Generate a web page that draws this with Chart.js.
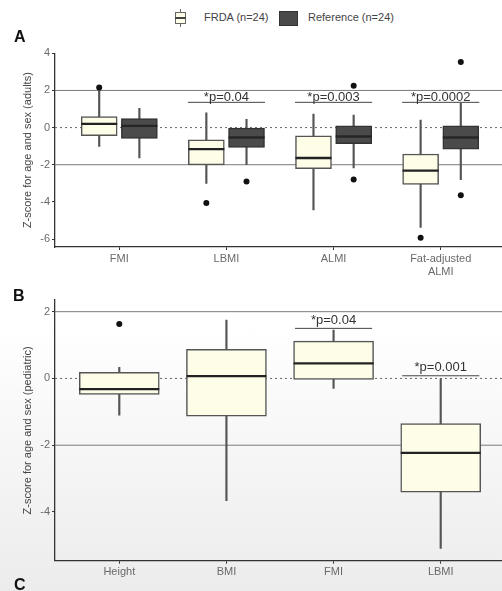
<!DOCTYPE html>
<html>
<head>
<meta charset="utf-8">
<script src="https://cdn.jsdelivr.net/npm/chart.js@4.4.0/dist/chart.umd.min.js"></script>
<style>
  html, body { margin: 0; padding: 0; }
  body {
    width: 502px; height: 591px; overflow: hidden; position: relative;
    background: linear-gradient(to bottom, #ffffff 0%, #ffffff 55%, #ececec 100%);
    font-family: Arial, "Liberation Sans", sans-serif;
  }
  canvas { position: absolute; left: 0; }
  #chartA { top: 40px; }
  #chartB { top: 285px; }
  .tag { position: absolute; font-weight: bold; font-size: 16px; color: #111; z-index: 2; }
  .leg { position: absolute; font-size: 11px; color: #444; top: 11px; }
  .icon { position: absolute; box-sizing: border-box; }
</style>
</head>
<body>
<!-- legend -->
<div class="icon" style="left:180px;top:9px;width:1px;height:18px;background:#666"></div>
<div class="icon" style="left:175px;top:12px;width:11px;height:12px;border:1px solid #666;background:#fdfde8"></div>
<div class="icon" style="left:175px;top:17px;width:11px;height:2px;background:#444"></div>
<span class="leg" style="left:204px">FRDA (n=24)</span>
<div class="icon" style="left:279px;top:11px;width:19px;height:15px;border:1px solid #333;background:#4a4a4a"></div>
<span class="leg" style="left:308px">Reference (n=24)</span>

<div class="tag" style="left:14px;top:28px">A</div>
<div class="tag" style="left:13px;top:287px">B</div>
<div class="tag" style="left:14px;top:576px">C</div>

<canvas id="chartA" width="506" height="242"></canvas>
<canvas id="chartB" width="506" height="306"></canvas>

<script>
// Panel A: adults, FRDA vs reference
const adultCats = ['FMI', 'LBMI', 'ALMI', ['Fat-adjusted', 'ALMI']];
// each row: [lower whisker, q1, median, q3, upper whisker]
const frdaAdult = [
  [-1.02, -0.43, 0.2, 0.59, 2.1],
  [-3.01, -2.01, -1.16, -0.66, 0.8],
  [-4.44, -2.21, -1.64, -0.44, 0.73],
  [-5.38, -3.06, -2.32, -1.42, 0.41]
];
const refAdult = [
  [-1.64, -0.59, 0.09, 0.48, 1.04],
  [-2.0, -1.07, -0.53, 0.0, 0.45],
  [-2.17, -0.87, -0.48, 0.09, 0.68],
  [-2.8, -1.16, -0.53, 0.09, 1.3]
];
const frdaAdultOut = [[2.16], [-4.06], [], [-5.93]];
const refAdultOut = [[], [-2.9], [2.25, -2.8], [3.53, -3.65]];
const adultSigCat = [2, 3, 4];
const adultSigY = [1.36, 1.36, 1.36];
const adultSigText = ['*p=0.04', '*p=0.003', '*p=0.0002'];
const adultTicks = [-6, -4, -2, 0, 2, 4];

// Panel B: pediatric, FRDA only
const pedCats = ['Height', 'BMI', 'FMI', 'LBMI'];
const frdaPed = [
  [-1.1, -0.48, -0.32, 0.18, 0.33],
  [-3.66, -1.13, 0.07, 0.87, 1.75],
  [-0.3, -0.03, 0.45, 1.12, 1.45],
  [-5.09, -3.41, -2.23, -1.35, 0.0]
];
const frdaPedOut = [[1.63], [], [], []];
const pedSigCat = [3, 4];
const pedSigY = [1.5, 0.08];
const pedSigText = ['*p=0.04', '*p=0.001'];
const pedTicks = [-4, -2, 0, 2];

const cutLines = [2, -2];
const X_MIN = 0.4, X_MAX = 4.6;

function boxSets(stats, outs, shift, width, fill, edge, med) {
  const pos = stats.map((s, i) => i + 1 + shift);
  return [
    { type: 'bar', stack: 'box', order: 6, barThickness: 1.5, backgroundColor: '#555',
      data: stats.map((s, i) => ({ x: pos[i], y: [s[0], s[4]] })) },
    { type: 'bar', stack: 'box', order: 5, barThickness: width, backgroundColor: fill,
      borderColor: edge, borderWidth: 1.5, borderSkipped: false,
      data: stats.map((s, i) => ({ x: pos[i], y: [s[1], s[3]] })) },
    { type: 'line', order: 4, showLine: false, pointStyle: 'line', pointRadius: width / 2,
      pointBorderWidth: 2.4, pointBorderColor: med,
      data: stats.map((s, i) => ({ x: pos[i], y: s[2] })) },
    { type: 'line', order: 3, showLine: false, pointRadius: 3, pointBackgroundColor: '#111',
      pointBorderWidth: 0,
      data: outs.flatMap((o, i) => o.map(v => ({ x: pos[i], y: v }))) }
  ];
}

function guideSets() {
  const sets = cutLines.map(v => ({
    type: 'line', order: 10, borderColor: '#7a7a7a', borderWidth: 1, pointRadius: 0,
    data: [{ x: X_MIN, y: v }, { x: X_MAX, y: v }]
  }));
  sets.push({
    type: 'line', order: 10, borderColor: '#666', borderWidth: 1, borderDash: [2, 3], pointRadius: 0,
    data: [{ x: X_MIN, y: 0 }, { x: X_MAX, y: 0 }]
  });
  return sets;
}

function bracketSets(cats, ys) {
  return cats.map((c, k) => ({
    type: 'line', order: 1, borderColor: '#444', borderWidth: 1, pointRadius: 0,
    data: [{ x: c - 0.36, y: ys[k] }, { x: c + 0.36, y: ys[k] }]
  }));
}

const sigLabels = {
  id: 'sigLabels',
  afterDatasetsDraw(chart, args, opts) {
    const { ctx, scales: { x, y } } = chart;
    ctx.save();
    ctx.font = '13px Arial, "Liberation Sans", sans-serif';
    ctx.fillStyle = '#333';
    ctx.textAlign = 'center';
    ctx.textBaseline = 'alphabetic';
    opts.cats.forEach((c, k) => {
      ctx.fillText(opts.texts[k], x.getPixelForValue(c), y.getPixelForValue(opts.ys[k]) - opts.gap);
    });
    ctx.restore();
  }
};

function makeChart(id, cfg) {
  const tickFont = { family: 'Arial, "Liberation Sans", sans-serif', size: 11 };
  return new Chart(document.getElementById(id), {
    type: 'bar',
    data: { datasets: cfg.datasets },
    options: {
      responsive: false,
      animation: false,
      devicePixelRatio: 1,
      layout: { autoPadding: false, padding: { top: cfg.padTop, right: 1, left: 0, bottom: 0 } },
      plugins: { legend: { display: false }, tooltip: { enabled: false }, sigLabels: cfg.sig },
      scales: {
        x: {
          type: 'linear', min: X_MIN, max: X_MAX, offset: false,
          grid: { offset: false, drawOnChartArea: false, drawTicks: true, tickLength: 3, color: '#333' },
          border: { display: true, color: '#333', width: 1.3 },
          afterBuildTicks: s => { s.ticks = cfg.cats.map((c, i) => ({ value: i + 1 })); },
          afterFit: s => { s.height = cfg.xHeight; },
          ticks: { font: tickFont, color: '#6a6a6a', padding: 2, maxRotation: 0, autoSkip: false,
                   callback: v => cfg.cats[v - 1] }
        },
        y: {
          type: 'linear', min: cfg.yMin, max: cfg.yMax, stacked: false,
          grid: { drawOnChartArea: false, drawTicks: true, tickLength: 3, color: '#333' },
          border: { display: true, color: '#333', width: 1.3 },
          afterBuildTicks: s => { s.ticks = cfg.yTicks.map(v => ({ value: v })); },
          afterFit: s => { s.width = 55; },
          ticks: { font: tickFont, color: '#6a6a6a', padding: 2 },
          title: { display: true, text: cfg.yTitle, color: '#444', font: tickFont,
                   padding: { top: 21, bottom: 0 } }
        }
      }
    },
    plugins: [sigLabels]
  });
}

makeChart('chartA', {
  cats: adultCats, yMin: -6.43, yMax: 4.0, yTicks: adultTicks, padTop: 13.3, xHeight: 35,
  yTitle: 'Z-score for age and sex (adults)',
  sig: { cats: adultSigCat, ys: adultSigY, texts: adultSigText, gap: 1 },
  datasets: [
    ...bracketSets(adultSigCat, adultSigY),
    ...boxSets(frdaAdult, frdaAdultOut, -0.1875, 36, '#fdfde8', '#555', '#222'),
    ...boxSets(refAdult, refAdultOut, 0.1875, 36, '#4b4b4b', '#333', '#262626'),
    ...guideSets()
  ]
});

makeChart('chartB', {
  cats: pedCats, yMin: -5.46, yMax: 2.35, yTicks: pedTicks, padTop: 15, xHeight: 30.3,
  yTitle: 'Z-score for age and sex (pediatric)',
  sig: { cats: pedSigCat, ys: pedSigY, texts: pedSigText, gap: 4.5 },
  datasets: [
    ...bracketSets(pedSigCat, pedSigY),
    ...boxSets(frdaPed, frdaPedOut, 0, 80, '#fdfde8', '#555', '#222'),
    ...guideSets()
  ]
});
</script>
</body>
</html>
